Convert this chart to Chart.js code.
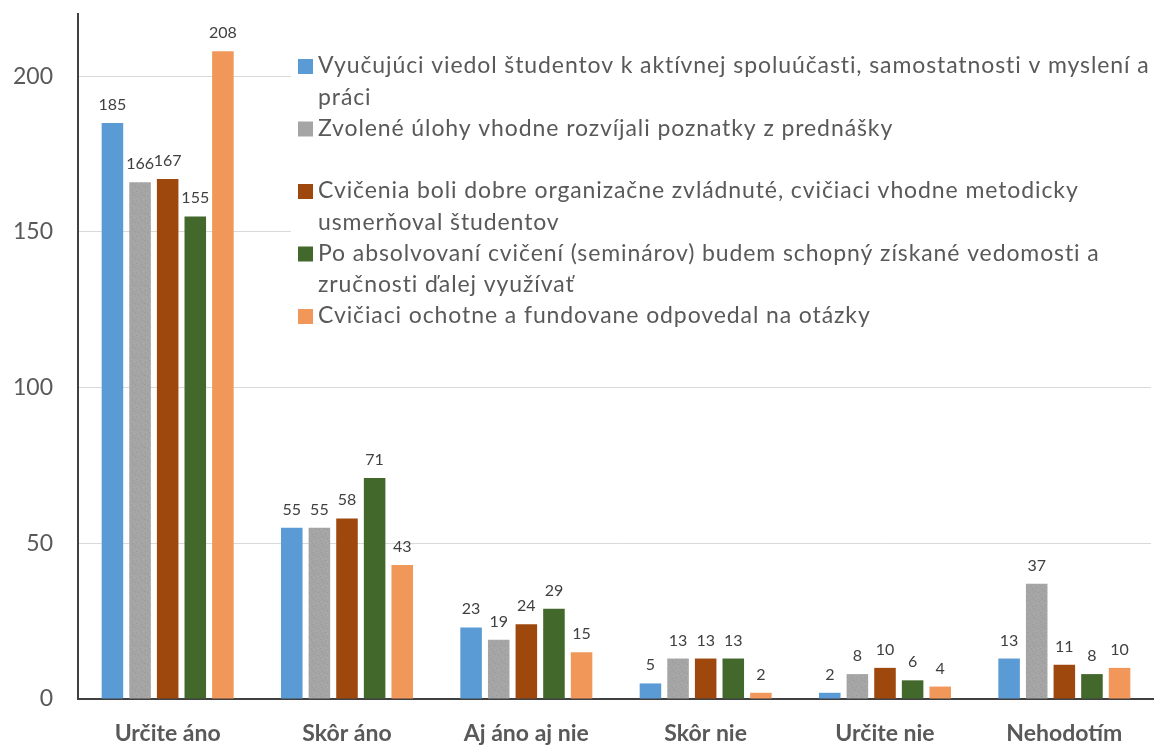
<!DOCTYPE html>
<html><head><meta charset="utf-8">
<script src="https://cdn.jsdelivr.net/npm/chart.js@4.4.1/dist/chart.umd.min.js"></script>
<style>html,body{margin:0;padding:0;background:#fff;overflow:hidden}#wrap{width:1154px;height:745px}</style>
</head><body><div id="wrap"><canvas id="c" width="1154" height="745"></canvas></div>
<script>
const categories = ['Určite áno','Skôr áno','Aj áno aj nie','Skôr nie','Určite nie','Nehodotím'];
const seriesNames = [
  ['Vyučujúci viedol študentov k aktívnej spoluúčasti, samostatnosti v myslení a','práci'],
  ['Zvolené úlohy vhodne rozvíjali poznatky z prednášky'],
  ['Cvičenia boli dobre organizačne zvládnuté, cvičiaci vhodne metodicky','usmerňoval študentov'],
  ['Po absolvovaní cvičení (seminárov) budem schopný získané vedomosti a','zručnosti ďalej využívať'],
  ['Cvičiaci ochotne a fundovane odpovedal na otázky']
];
const s1 = [185,55,23,5,2,13];
const s2 = [166,55,19,13,8,37];
const s3 = [167,58,24,13,10,11];
const s4 = [155,71,29,13,6,8];
const s5 = [208,43,15,2,4,10];
const yTicks = [0,50,100,150,200];
const colors = ['#5B9BD5','#A5A5A5','#9E480E','#43682B','#F1975A'];

function grayPattern(){
  const p=document.createElement('canvas');p.width=9;p.height=9;
  const g=p.getContext('2d');g.fillStyle='#A5A5A5';g.fillRect(0,0,9,9);
  g.fillStyle='#999999';
  [[1,2],[5,0],[7,5],[3,7],[0,6],[6,3]].forEach(([x,y])=>g.fillRect(x,y,1,1));
  g.fillStyle='#adadad';
  [[3,3],[8,1],[2,0],[5,8]].forEach(([x,y])=>g.fillRect(x,y,1,1));
  return document.getElementById('c').getContext('2d').createPattern(p,'repeat');
}
const fills=[colors[0],grayPattern(),colors[2],colors[3],colors[4]];
const data=[s1,s2,s3,s4,s5];

const FONT='Lato, "Open Sans", sans-serif';

const labelPlugin={id:'vals',afterDatasetsDraw(chart){
  const ctx=chart.ctx;ctx.save();
  ctx.font='16px '+FONT;ctx.fillStyle='#404040';ctx.textAlign='center';ctx.textBaseline='alphabetic';
  chart.data.datasets.forEach((ds,i)=>{
    chart.getDatasetMeta(i).data.forEach((el,j)=>{
      ctx.fillText(String(ds.data[j]),el.x,el.y-13);
    });
  });
  ctx.restore();
}};
const legendPlugin={id:'lg',afterDraw(chart){
  const ctx=chart.ctx;ctx.save();
  ctx.fillStyle='#fff';ctx.fillRect(291,40,863,300);
  ctx.fillRect(chart.chartArea.right-3,0,10,chart.chartArea.bottom-2);
  ctx.font='23px '+FONT;ctx.textBaseline='middle';ctx.textAlign='left';
  try{ctx.letterSpacing='0.9px';}catch(e){}
  chart.data.datasets.forEach((ds,i)=>{
    const y0=66+i*62.5;
    ctx.fillStyle=colors[i];ctx.fillRect(298,y0-7,15,15);
    ctx.fillStyle='#595959';
    seriesNames[i].forEach((ln,k)=>ctx.fillText(ln,318,y0+k*31.3));
  });
  ctx.restore();
}};

new Chart(document.getElementById('c'),{
  type:'bar',
  data:{labels:categories,datasets:data.map((d,i)=>({label:seriesNames[i].join(' '),data:d,backgroundColor:fills[i],borderWidth:0,categoryPercentage:0.77,barPercentage:0.78}))},
  options:{
    responsive:false,animation:false,
    layout:{padding:{top:14,right:0,left:0,bottom:0}},
    plugins:{legend:{display:false},tooltip:{enabled:false}},
    scales:{
      x:{grid:{display:false,drawOnChartArea:false,drawTicks:false},border:{color:'#404040',width:2},
         afterFit(s){s.height=46;s.paddingLeft=0;s.paddingRight=0;},
         ticks:{color:'#595959',font:{family:FONT,size:23,weight:'bold'},padding:21}},
      y:{min:0,max:220,
         afterBuildTicks(s){s.ticks=yTicks.map(v=>({value:v}));},
         afterFit(s){s.width=78;s.paddingTop=0;s.paddingBottom=0;},
         grid:{color:'#D9D9D9',lineWidth:1,drawTicks:false},
         border:{color:'#404040',width:2},
         ticks:{color:'#595959',font:{family:FONT,size:23},padding:25}}
    }
  },
  plugins:[labelPlugin,legendPlugin]
});
</script></body></html>
